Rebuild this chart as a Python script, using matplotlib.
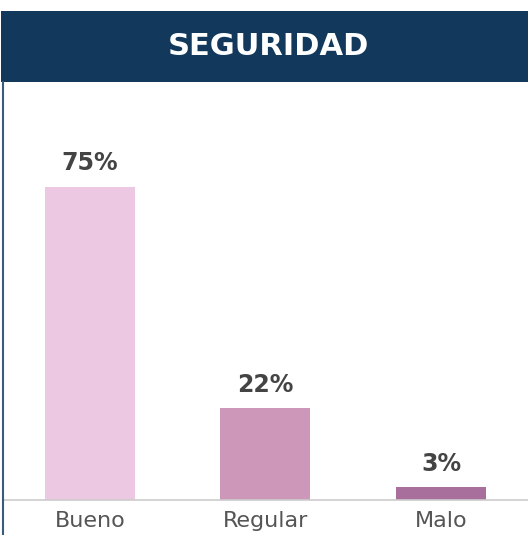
import matplotlib.pyplot as plt
from matplotlib.patches import Rectangle
from matplotlib.lines import Line2D

categories = ["Bueno", "Regular", "Malo"]
values = [75, 22, 3]
labels = ["75%", "22%", "3%"]
colors = ["#ecc8e3", "#cc97b8", "#a86f9c"]

W, H = 528, 535
fig = plt.figure(figsize=(W / 100, H / 100), dpi=100)
fig.patch.set_facecolor("white")

# header band
fig.patches.append(Rectangle((1 / W, 1 - 82 / H), 527 / W, 71 / H,
                             transform=fig.transFigure, facecolor="#12385c",
                             edgecolor="none"))
fig.text(268 / W, 1 - 47 / H, "SEGURIDAD", color="white", fontsize=22,
         fontweight="bold", ha="center", va="center", family="DejaVu Sans")
# left border
fig.lines.append(Line2D([3 / W, 3 / W], [0, 1 - 82 / H], transform=fig.transFigure,
                        color="#3a5b7a", lw=1.5))

ax = fig.add_axes([4 / W, 35 / H, 524 / W, 418 / H])
x = range(len(categories))
ax.bar(x, values, width=0.513, color=colors)
for i, (v, t) in enumerate(zip(values, labels)):
    ax.annotate(t, (i, v), xytext=(0, 11), textcoords="offset pixels",
                ha="center", va="bottom", fontsize=17, fontweight="bold",
                color="#444444")
ax.set_xlim(-0.49, 2.496)
ax.set_ylim(0, 100)
ax.set_xticks(list(x))
ax.set_xticklabels(categories, fontsize=16, color="#555555")
ax.tick_params(axis="x", length=0, pad=8)
ax.set_yticks([])
for s in ["top", "right", "left"]:
    ax.spines[s].set_visible(False)
ax.spines["bottom"].set_color("#cccccc")
ax.spines["bottom"].set_linewidth(1.2)

fig.savefig("out.png", dpi=100)
